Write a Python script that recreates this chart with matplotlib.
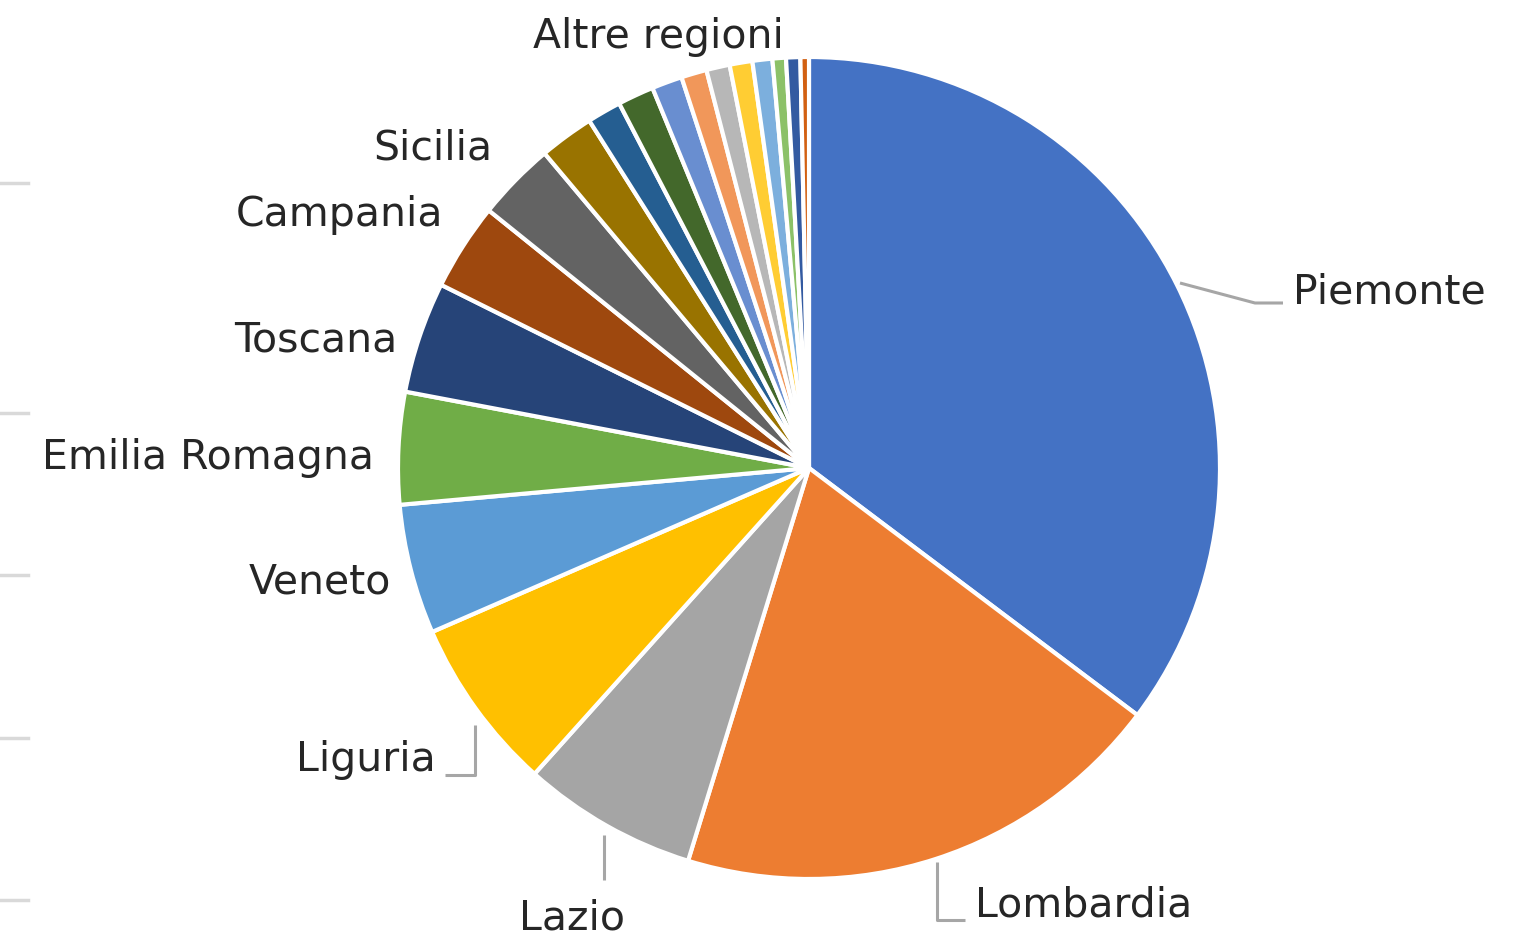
import numpy as np
import matplotlib.pyplot as plt
from matplotlib.lines import Line2D

# shares of each region (degrees of the pie)
regions = ["Piemonte", "Lombardia", "Lazio", "Liguria", "Veneto", "Emilia Romagna",
           "Toscana", "Campania", "Sicilia", "r10", "r11", "r12", "r13", "r14",
           "r15", "r16", "r17", "r18", "r19", "r20"]
shares = [126.5, 69.9, 24.7, 24.5, 18.3, 15.8, 15.7, 12.3, 11.1, 7.7,
          4.8, 5.1, 4.3, 3.6, 3.3, 3.2, 2.8, 1.9, 2.0, 1.2]
colors = ["#4472C4", "#ED7D31", "#A5A5A5", "#FFC000", "#5B9BD5", "#70AD47",
          "#264478", "#9E480E", "#636363", "#997300", "#255E91", "#43682B",
          "#698ED0", "#F1975A", "#B7B7B7", "#FFCD33", "#7CAFDD", "#8CC168",
          "#335AA1", "#D26012"]

# grey stubs on the left edge (rows of a cropped table)
stub_rows = [183, 413, 575, 738, 900]

W, H = 1529, 947
CX, CY, R = 809, 468, 411


def to_data(px, py):
    return (px - CX) / R, (CY - py) / R


fig = plt.figure(figsize=(W / 100, H / 100), dpi=100)
ax = fig.add_axes([(CX - R) / W, (H - CY - R) / H, 2 * R / W, 2 * R / H])
ax.axis("off")

ax.pie(shares, colors=colors, startangle=90, counterclock=False, radius=1,
       wedgeprops=dict(edgecolor="white", linewidth=3))
ax.set_xlim(-1, 1)
ax.set_ylim(-1, 1)
ax.set_aspect("equal")

font = dict(family=["DejaVu Sans"], fontsize=29.5, color="#262626")

# labels: (text, px, py, ha)
labels = [("Piemonte", 1293, 292, "left"),
          ("Lombardia", 975, 905, "left"),
          ("Lazio", 572, 918, "center"),
          ("Liguria", 436, 760, "right"),
          ("Veneto", 391, 583, "right"),
          ("Emilia Romagna", 374, 458, "right"),
          ("Toscana", 397, 340, "right"),
          ("Campania", 443, 215, "right"),
          ("Sicilia", 492, 148, "right"),
          ("Altre regioni", 784, 37, "right")]
for txt, px, py, ha in labels:
    x, y = to_data(px, py)
    ax.text(x, y, txt, ha=ha, va="center", clip_on=False, **font)

# leader lines
leaders = [[(1180, 283), (1255, 303), (1283, 303)],
           [(937, 862), (937, 920), (965, 920)],
           [(604, 835), (604, 880)],
           [(475, 725), (475, 775), (445, 775)]]
for pts in leaders:
    xs, ys = zip(*[to_data(px, py) for px, py in pts])
    ax.plot(xs, ys, color="#A6A6A6", lw=2.2, clip_on=False, solid_capstyle="butt")

for yy in stub_rows:
    fig.add_artist(Line2D([0, 28 / W], [1 - yy / H, 1 - yy / H],
                          color="#D9D9D9", lw=2.5, transform=fig.transFigure))

fig.savefig("out.png", dpi=100, facecolor="white")
